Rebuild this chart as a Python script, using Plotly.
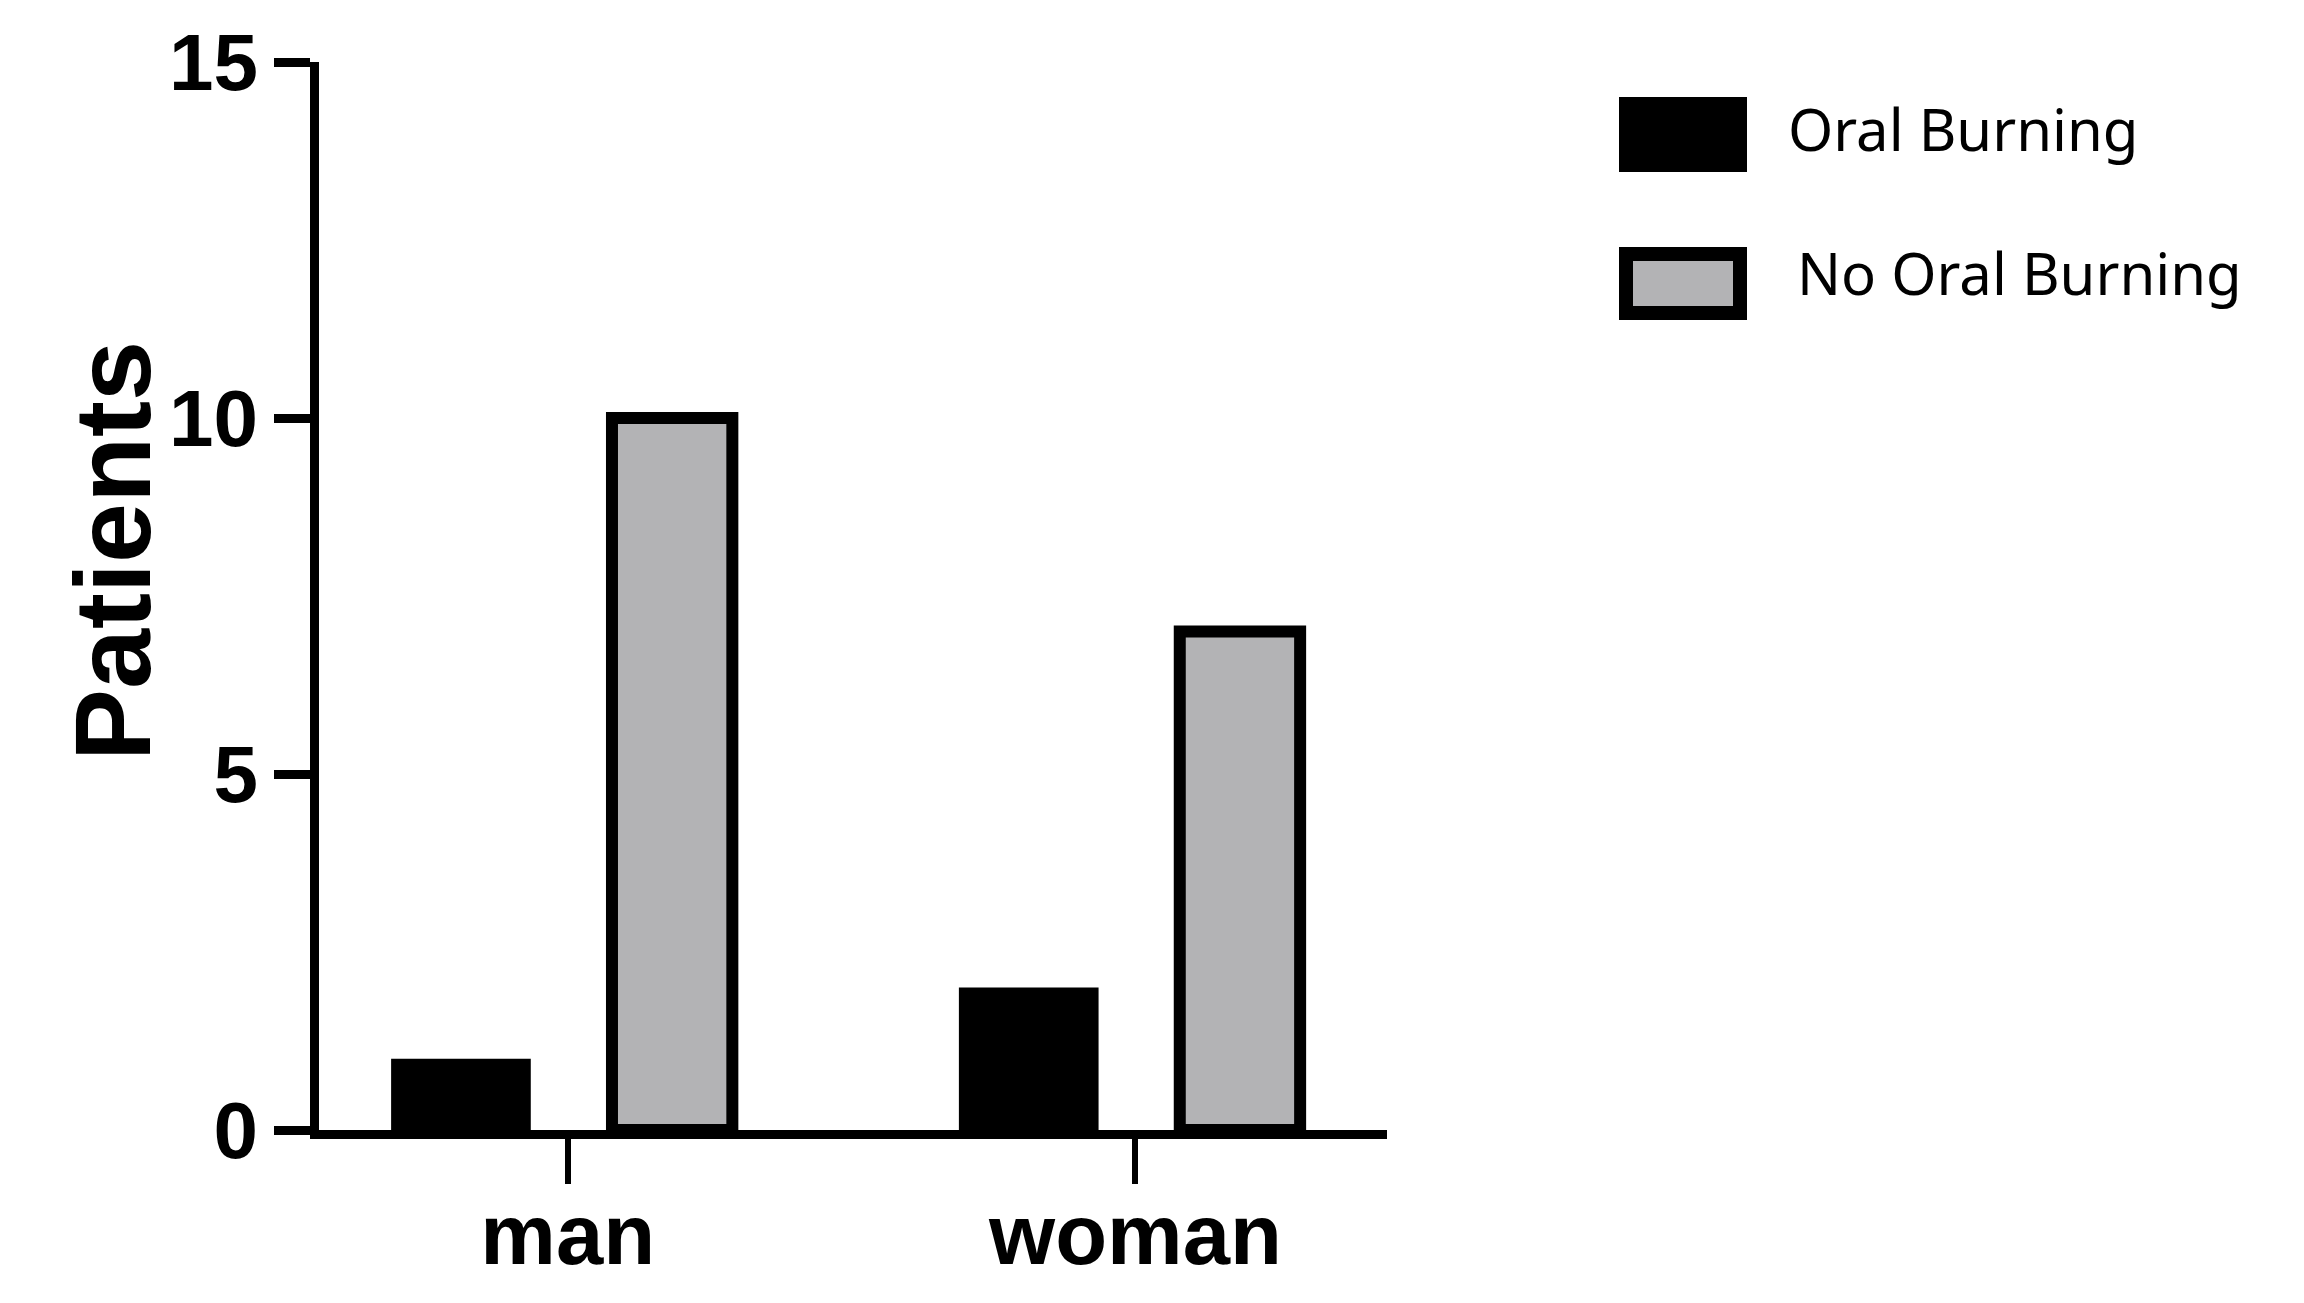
import plotly.graph_objects as go

# ── Datos ─────────────────────────────────────────────────────────────────────
categorias = ["man", "woman"]
oral_burning = [1, 2]
no_oral_burning = [10, 7]
ticks_y = [0, 5, 10, 15]
nombres_series = ["Oral Burning", "No Oral Burning"]

# la página desplaza el gráfico ~8 px hacia abajo, se compensa aquí
W, H = 2304, 1303
DX, DY = 8, 8
L, R, T, B = 311, 925, 54, 181
PW, PH = W - L - R, H - T - B

FUENTE_EJES = "Liberation Sans, Arial, sans-serif"
FUENTE_LEYENDA = "Noto Sans, Open Sans, sans-serif"


def px_a_papel(x, y):
    # coordenadas de la imagen de referencia -> papel
    return (x - DX - L) / PW, (H - B - (y - DY)) / PH


fig = go.Figure()

fig.add_trace(go.Bar(
    x=categorias, y=oral_burning, name=nombres_series[0],
    marker=dict(color="black", line=dict(width=0)),
    width=0.246, offset=-0.311,
))
fig.add_trace(go.Bar(
    x=categorias, y=no_oral_burning, name=nombres_series[1],
    marker=dict(color="#b3b3b5", line=dict(color="black", width=12)),
    width=0.212, offset=0.078,
))

# ── Leyenda dibujada a mano (cajas grandes) ──────────────────────────────────
x0, y1 = px_a_papel(1619, 97)
x1, y0 = px_a_papel(1747, 172)
fig.add_shape(type="rect", xref="paper", yref="paper", x0=x0, x1=x1, y0=y0, y1=y1,
              fillcolor="black", line=dict(width=0))
x0, y1 = px_a_papel(1626, 254)
x1, y0 = px_a_papel(1740, 313)
fig.add_shape(type="rect", xref="paper", yref="paper", x0=x0, x1=x1, y0=y0, y1=y1,
              fillcolor="#b3b3b5", line=dict(color="black", width=14))

for nombre, (px, py) in zip(nombres_series, [(1786, 128), (1795, 272)]):
    ax, ay = px_a_papel(px, py)
    fig.add_annotation(x=ax, y=ay, xref="paper", yref="paper", text=nombre,
                       showarrow=False, xanchor="left", yanchor="middle",
                       font=dict(family=FUENTE_LEYENDA, size=58, color="black"))

# título del eje Y
ax, ay = px_a_papel(112, 551)
fig.add_annotation(x=ax, y=ay, xref="paper", yref="paper", text="<b>Patients</b>",
                   textangle=-90, showarrow=False, xanchor="center", yanchor="middle",
                   font=dict(family=FUENTE_EJES, size=108, color="black"))

fig.update_layout(
    width=W, height=H,
    margin=dict(l=L, r=R, t=T, b=B, autoexpand=False),
    paper_bgcolor="white", plot_bgcolor="white",
    showlegend=False,
    font=dict(family=FUENTE_EJES, color="black"),
)
fig.update_xaxes(
    type="category", range=[-0.438, 1.443], automargin=False,
    showline=True, linecolor="black", linewidth=9,
    ticks="outside", ticklen=45, tickwidth=6, tickcolor="black",
    ticklabelstandoff=-22,
    tickfont=dict(family=FUENTE_EJES, size=85, weight="bold"),
    showgrid=False, zeroline=False,
)
fig.update_yaxes(
    range=[0, 15], tickvals=ticks_y, automargin=False,
    showline=True, linecolor="black", linewidth=9,
    ticks="outside", ticklen=36, tickwidth=9, tickcolor="black",
    tickfont=dict(family=FUENTE_EJES, size=80, weight="bold"),
    showgrid=False, zeroline=False,
)

fig.write_html("out.html")
